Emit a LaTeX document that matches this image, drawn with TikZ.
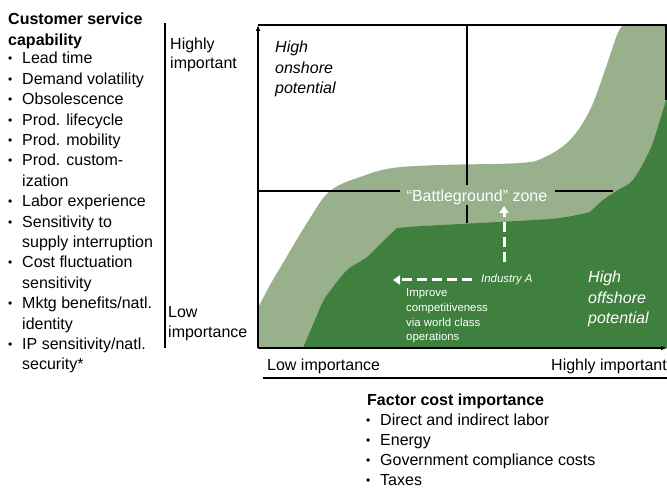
\documentclass[tikz,border=0pt]{standalone}
\usepackage{fontspec}
\setmainfont{Liberation Sans}
\usetikzlibrary{arrows.meta}
\definecolor{zonegreen}{HTML}{98B08C}
\definecolor{offgreen}{HTML}{3F803F}
\newcommand{\bul}{\makebox[14pt][l]{\raisebox{1pt}{\scalebox{0.75}{\textbullet}}}}
\newcommand{\ind}{\hspace*{14pt}}
\newcommand{\lines}[1]{\begin{tabular}[t]{@{}l@{}}#1\end{tabular}}
\tikzset{
  txt/.style={inner sep=0pt,anchor=base west,font=\fontsize{16}{20.4}\selectfont},
  small/.style={inner sep=0pt,anchor=base west,text=white,font=\fontsize{11.4}{14.5}\selectfont},
  axis/.style={line width=1.5pt},
  divider/.style={line width=1.3pt},
  push/.style={white,line width=3pt,dash pattern=on 10pt off 5pt,-{Triangle[length=7pt,width=9pt]}}
}
\begin{document}
\begin{tikzpicture}[x=1pt,y=-1pt]
\useasboundingbox (0,0) rectangle (667,489);
% zones
\fill[zonegreen] (258,348) -- (258,308)
  -- plot[smooth,tension=0.6] coordinates {(258,308) (270,285) (283,263) (307,223) (330,191) (363,176) (393,168) (440,165) (520,163) (545,157) (570,140) (590,110) (605,70) (617,35) (623,25)}
  -- (667,25) -- (667,348) -- cycle;
\fill[offgreen] (303,348)
  -- plot[smooth,tension=0.4] coordinates {(303,348) (315,320) (325,298) (347,270) (367,257) (393,232) (408,227) (550,219) (590,212)}
  -- plot[smooth,tension=0.5] coordinates {(590,212) (603,200) (618,190) (633,180) (650,150) (660,120) (667,97)}
  -- (667,348) -- cycle;
% frame and axes
\coordinate (o) at (258,348);
\coordinate (ytop) at (258,25);
\coordinate (xend) at (667,348);
\coordinate (tr) at (666,25);
\coordinate (rb) at (666,100);
\draw[axis] (ytop) -- (tr) -- (rb);
\draw[axis,-{Latex[length=6pt,width=5pt]}] (o) -- (ytop);
\draw[axis,-{Latex[length=6pt,width=5pt]}] (o) -- (xend);
% quadrant lines
\node[txt,anchor=base,text=white] (battle) at (477,202) {“Battleground” zone};
\coordinate (vtop) at (467,25);
\coordinate (vbot) at (467,223);
\coordinate (hleft) at (258,191);
\coordinate (hright) at (613,191);
\draw[divider] (vtop) -- (467,185);
\draw[divider] (467,205) -- (vbot);
\draw[divider] (hleft) -- (400,191);
\draw[divider] (555,191) -- (hright);
% zone labels
\node[txt,font=\fontsize{16}{20.4}\selectfont\itshape] (onshore) at (275,53) {\lines{High\\onshore\\potential}};
\node[txt,text=white,font=\fontsize{16}{20.4}\selectfont\itshape] (offshore) at (588,283) {\lines{High\\offshore\\potential}};
\node[small,font=\fontsize{11.4}{14.5}\selectfont\itshape] (industry) at (481,283) {Industry A};
\node[small] (improve) at (406,297) {\lines{Improve\\competitiveness\\via world class\\operations}};
\coordinate (upstart) at (504,262);
\coordinate (upend) at (504,206);
\coordinate (leftstart) at (472,280);
\coordinate (leftend) at (393,280);
\draw[push] (upstart) -- (upend);
\draw[push] (leftstart) -- (leftend);
% y axis labels
\coordinate (ltop) at (165,23);
\coordinate (lbot) at (165,348);
\draw[divider] (ltop) -- (lbot);
\node[txt,font=\fontsize{16}{19}\selectfont] (yhigh) at (170,50) {\lines{Highly\\important}};
\node[txt,font=\fontsize{16}{20}\selectfont] (ylow) at (168,317) {\lines{Low\\importance}};
\node[txt,font=\fontsize{16}{20.4}\selectfont\bfseries] (cscap) at (8,25) {\lines{Customer service\\capability}};
\node[txt] (cslist) at (8,64) {\lines{\bul Lead time\\\bul Demand volatility\\\bul Obsolescence\\\bul Prod. lifecycle\\\bul Prod. mobility\\\bul Prod. custom-\\\ind ization\\\bul Labor experience\\\bul Sensitivity to\\\ind supply interruption\\\bul Cost fluctuation\\\ind sensitivity\\\bul Mktg benefits/natl.\\\ind identity\\\bul IP sensitivity/natl.\\\ind security*}};
% x axis labels
\node[txt] (xlow) at (267,370) {Low importance};
\node[txt,anchor=base east] (xhigh) at (667,370) {Highly important};
\coordinate (bl) at (263,378);
\coordinate (br) at (667,378);
\draw[divider] (bl) -- (br);
\node[txt,font=\fontsize{16}{20}\selectfont\bfseries] (fccap) at (367,405) {Factor cost importance};
\node[txt,font=\fontsize{16}{20}\selectfont] (fclist) at (366,425) {\lines{\bul Direct and indirect labor\\\bul Energy\\\bul Government compliance costs\\\bul Taxes}};
\end{tikzpicture}
\end{document}
